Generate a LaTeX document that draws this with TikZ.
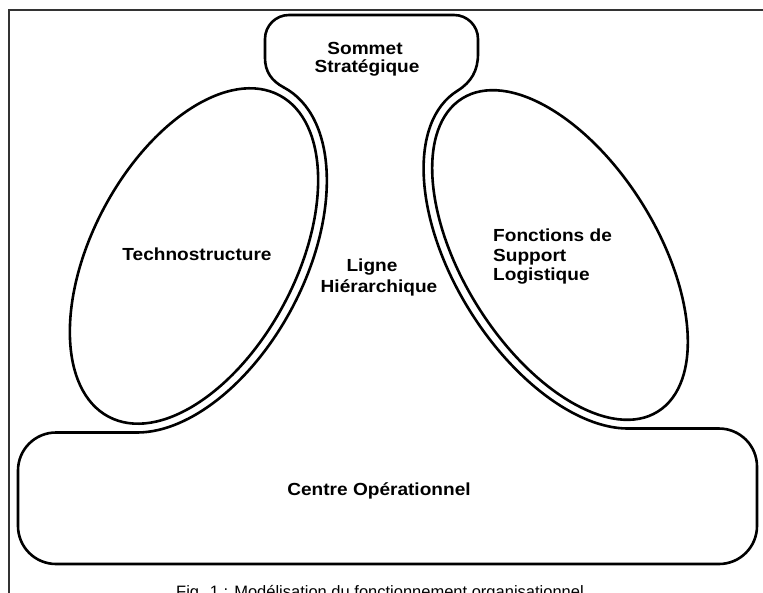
\documentclass[tikz,border=0pt]{standalone}
\usepackage{fontspec}
\setmainfont{Liberation Sans}
\newfontfamily\labelfont{Liberation Sans}[FakeStretch=1.09]
\begin{document}
\begin{tikzpicture}[x=1pt,y=1pt,
  outline/.style={line width=2.6pt, line cap=round, line join=round},
  frameline/.style={line width=1.8pt, draw=black!80},
  lbl/.style={font=\labelfont\bfseries\fontsize{17.5pt}{19pt}\selectfont, inner sep=0pt, anchor=base},
  lblleft/.style={lbl, anchor=base west},
  captionstyle/.style={font=\fontsize{16.5pt}{18pt}\selectfont, inner sep=0pt, anchor=base}]
\useasboundingbox (0,0) rectangle (763,-593);
\clip (0,0) rectangle (763,-593);
\fill[white] (0,0) rectangle (763,-593);

% page frame (top and left edges)
\coordinate (f0) at (9,-10);
\coordinate (f1) at (763,-10);
\coordinate (f2) at (9,-593);
\draw[frameline] (f1) -- (f0) -- (f2);

% Technostructure and the left edge of the middle line
\begin{scope}[shift={(194,-256)}, rotate=62]
  \draw[outline] (0,0) ellipse[x radius=182, y radius=102];
  \coordinate (L1) at (0:191 and 111);
  \coordinate (LB) at (-162.8:191 and 111);
  \draw[outline] (L1) arc[start angle=0, end angle=-162.8, x radius=191, y radius=111];
\end{scope}

% Support functions and the right edge of the middle line
\begin{scope}[shift={(560,-255)}, rotate=122]
  \draw[outline] (0,0) ellipse[x radius=184.6, y radius=97];
  \coordinate (R1) at (0:193.6 and 106);
  \coordinate (RB) at (161.1:193.6 and 106);
  \draw[outline] (R1) arc[start angle=0, end angle=161.1, x radius=193.6, y radius=106];
\end{scope}

% strategic apex, flaring into the middle line
\coordinate (sl) at (265,-58);
\coordinate (sr) at (478,-54);
\draw[outline] (L1) to[out=152,in=-90] (sl) -- (265,-39)
  arc[start angle=180, end angle=90, radius=24] -- (454,-15)
  arc[start angle=90, end angle=0, radius=24] -- (sr)
  to[out=-90,in=32] (R1);

% operating core
\coordinate (cl) at (18,-500);
\coordinate (cr) at (757,-500);
\draw[outline, rounded corners=38pt] (LB) -- (LB -| cl) -- (18,-564) -- (757,-564) -- (RB -| cr) -- (RB);

% labels
\node[lbl] (som1) at (365,-55) {Sommet};
\node[lbl] (som2) at (367,-72.5) {Stratégique};
\node[lbl] (tech) at (197,-261) {Technostructure};
\node[lbl] (lig1) at (372,-272) {Ligne};
\node[lbl] (lig2) at (379,-293) {Hiérarchique};
\node[lblleft] (sup1) at (493,-242) {Fonctions de};
\node[lblleft] (sup2) at (493,-261.5) {Support};
\node[lblleft] (sup3) at (493,-280.5) {Logistique};
\node[lbl] (ops) at (379,-495) {Centre Opérationnel};
\node[captionstyle] (cap) at (380,-597) {Fig. 1 : Modélisation du fonctionnement organisationnel};
\end{tikzpicture}
\end{document}
